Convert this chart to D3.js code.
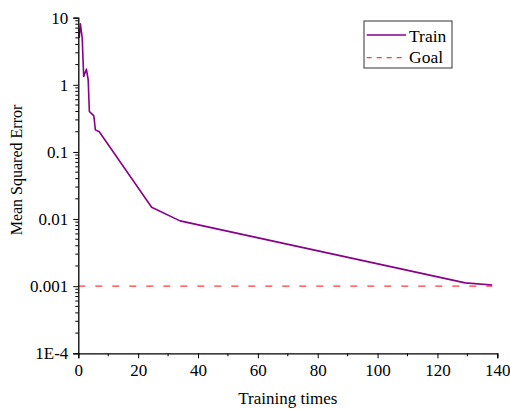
<!DOCTYPE html>
<html>
<head>
<meta charset="utf-8">
<script src="https://d3js.org/d3.v7.min.js"></script>
<style>
  body { margin: 0; background: #fff; }
  svg text { font-family: "Times New Roman", "Liberation Serif", Times, serif; fill: #000; }
</style>
</head>
<body>
<script>
// training curve (epoch, mse)
var trainX = [0.3, 0.7, 1.3, 1.8, 2.7, 3.3, 3.7, 5.2, 5.7, 7, 24.5, 34, 129.3, 138.3];
var trainY = [5.0, 8.1, 5.0, 1.33, 1.71, 1.19, 0.40, 0.344, 0.213, 0.20, 0.0150, 0.0094, 0.00112, 0.00104];
var goalX = [0, 138.3];
var goalY = [0.001, 0.001];
var xTicks = [0, 20, 40, 60, 80, 100, 120, 140];
var yTicks = [1e-4, 0.001, 0.01, 0.1, 1, 10];
var yTickLabels = ["1E-4", "0.001", "0.01", "0.1", "1", "10"];
var seriesNames = ["Train", "Goal"];

var W = 510, H = 409;
var margin = {top: 17.7, right: 12.7, bottom: 55.7, left: 78.3};
var serif = "'Times New Roman', 'Liberation Serif', Times, serif";

var svg = d3.select("body").append("svg")
    .attr("width", W)
    .attr("height", H)
    .attr("font-family", serif);

var x = d3.scaleLinear().domain([0, 140]).range([margin.left, W - margin.right]);
var y = d3.scaleLog().domain([1e-4, 10]).range([H - margin.bottom, margin.top]);

var line = d3.line()
    .x(function(d) { return x(d[0]); })
    .y(function(d) { return y(d[1]); });

var train = d3.zip(trainX, trainY);
var goal = d3.zip(goalX, goalY);

// goal line
svg.append("path")
    .attr("d", line(goal))
    .attr("fill", "none")
    .attr("stroke", "#ff3b3b")
    .attr("stroke-width", 1.3)
    .attr("stroke-dasharray", "7,10");

// train line
svg.append("path")
    .attr("d", line(train))
    .attr("fill", "none")
    .attr("stroke", "#880088")
    .attr("stroke-width", 1.6)
    .attr("stroke-linejoin", "round");

// x axis
var xAxis = svg.append("g")
    .attr("transform", "translate(0," + (H - margin.bottom) + ")")
    .call(d3.axisBottom(x).tickValues(xTicks).tickSize(5).tickPadding(6).tickFormat(d3.format("d")));
xAxis.append("g").selectAll("line")
    .data(d3.range(10, 140, 20))
    .enter().append("line")
    .attr("x1", function(d) { return x(d); })
    .attr("x2", function(d) { return x(d); })
    .attr("y1", 0).attr("y2", 3)
    .attr("stroke", "#000");

// y axis
var yAxis = svg.append("g")
    .attr("transform", "translate(" + margin.left + ",0)")
    .call(d3.axisLeft(y).tickValues(yTicks).tickSize(5).tickPadding(5)
      .tickFormat(function(d, i) { return yTickLabels[i]; }));
var minor = [];
yTicks.slice(0, -1).forEach(function(t) {
  for (var k = 2; k <= 9; k++) minor.push(t * k);
});
yAxis.append("g").selectAll("line")
    .data(minor)
    .enter().append("line")
    .attr("x1", 0).attr("x2", -3)
    .attr("y1", function(d) { return y(d); })
    .attr("y2", function(d) { return y(d); })
    .attr("stroke", "#000");

svg.selectAll(".domain").attr("stroke", "#000").attr("stroke-width", 1.3);
svg.selectAll(".tick line").attr("stroke", "#000");
xAxis.attr("font-family", serif).attr("font-size", 17);
yAxis.attr("font-family", serif).attr("font-size", 17);
svg.selectAll(".tick text").attr("fill", "#000");

// axis titles
svg.append("text")
    .attr("x", (margin.left + W - margin.right) / 2)
    .attr("y", 404)
    .attr("text-anchor", "middle")
    .attr("font-size", 17)
    .text("Training times");

svg.append("text")
    .attr("transform", "translate(22,170) rotate(-90)")
    .attr("text-anchor", "middle")
    .attr("font-size", 16)
    .text("Mean Squared Error");

// legend
var lg = svg.append("g").attr("transform", "translate(364,21)");
lg.append("rect")
    .attr("width", 88).attr("height", 47)
    .attr("fill", "#fff")
    .attr("stroke", "#333")
    .attr("stroke-width", 1);
lg.append("line")
    .attr("x1", 2.7).attr("x2", 42).attr("y1", 14).attr("y2", 14)
    .attr("stroke", "#880088").attr("stroke-width", 1.6);
lg.append("line")
    .attr("x1", 2.7).attr("x2", 42).attr("y1", 36.7).attr("y2", 36.7)
    .attr("stroke", "#ff3b3b").attr("stroke-width", 1.3)
    .attr("stroke-dasharray", "5,5");
lg.selectAll("text.lab")
    .data(seriesNames)
    .enter().append("text")
    .attr("class", "lab")
    .attr("x", 45)
    .attr("y", function(d, i) { return 20.5 + i * 21; })
    .attr("font-size", 17.5)
    .text(function(d) { return d; });
</script>
</body>
</html>
